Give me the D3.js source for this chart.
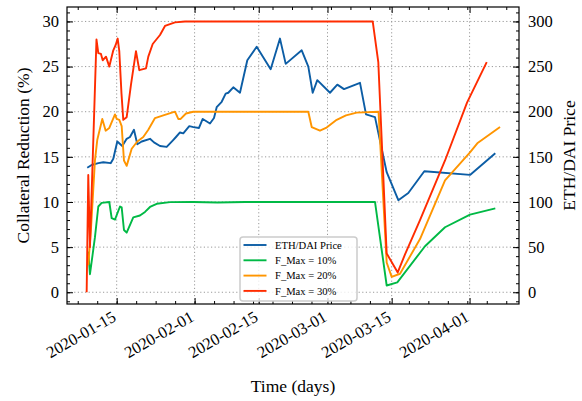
<!DOCTYPE html>
<html>
<head>
<meta charset="utf-8">
<script src="https://cdn.jsdelivr.net/npm/d3@7"></script>
<style>
  body { margin: 0; background: #fff; }
  svg, svg text { font-family: "Liberation Serif", "Times New Roman", serif; }
  svg { display: block; }
</style>
</head>
<body>
<svg id="chart" width="582" height="401"></svg>
<script>
// Times are day of 2020 (0 = Jan 1, fractional).
const ethPrice = [
  [7.58, 138], [8.54, 141], [9.99, 143], [11.08, 144], [12.69, 143], [13.26, 148],
  [14.13, 167], [15.22, 162], [16.18, 170], [16.90, 172], [17.77, 180], [18.50, 164],
  [19.46, 167], [21.27, 170], [22.14, 166], [23.45, 162], [24.91, 161], [26.22, 168],
  [26.94, 172], [27.81, 177], [28.53, 176], [29.84, 184], [30.76, 183], [31.96, 182],
  [32.77, 192], [34.36, 187], [35.23, 193], [35.82, 205], [36.91, 211], [37.78, 220],
  [38.35, 221], [39.44, 227], [40.90, 221], [42.50, 257], [44.55, 272], [47.60, 247],
  [49.63, 281], [50.88, 253], [54.37, 268], [55.81, 250], [56.77, 221], [57.77, 235],
  [60.54, 221], [62.14, 230], [63.60, 225], [67.09, 232], [68.40, 197], [70.36, 194],
  [72.91, 133], [75.45, 102], [77.63, 110], [81.12, 134], [91.09, 130], [96.61, 154]
];

const fMax10 = [
  [7.80, 4.5], [8.17, 2.0], [9.26, 6.1], [9.99, 9.5], [10.73, 9.9], [12.39, 10.0],
  [12.91, 8.2], [13.63, 8.05], [14.72, 9.5], [15.09, 9.4], [15.59, 6.9], [16.18, 6.6],
  [17.62, 8.3], [19.08, 8.5], [20.18, 8.9], [21.27, 9.45], [22.73, 9.8], [25.63, 9.98],
  [30.71, 10.0], [36.0, 9.95], [42.0, 10.0], [50.0, 10.0], [70.36, 10.0],
  [72.91, 0.75], [75.23, 1.1], [81.27, 5.1], [85.64, 7.2], [91.09, 8.6], [96.61, 9.3]
];

const fMax20 = [
  [7.80, 3.0], [8.39, 7.0], [9.26, 14.6], [9.77, 16.9], [10.86, 19.2], [11.60, 17.9],
  [12.39, 18.2], [13.63, 19.7], [14.0, 19.2], [14.57, 19.1], [15.09, 18.4], [15.59, 14.6],
  [16.18, 14.0], [17.27, 15.9], [18.50, 16.7], [19.80, 17.2], [20.90, 18.0], [22.36, 19.3],
  [24.17, 19.6], [26.72, 20.0], [27.44, 19.2], [27.96, 19.2], [29.12, 19.8], [30.71, 20.0],
  [55.81, 20.0], [56.55, 18.3], [58.36, 17.9], [59.67, 18.2], [62.00, 19.1], [64.03, 19.6],
  [66.37, 19.9], [71.13, 20.0], [72.91, 3.3], [74.0, 1.7], [75.82, 2.05], [80.18, 5.9],
  [85.64, 12.4], [91.09, 15.5], [92.68, 16.5], [97.64, 18.3]
];

const fMax30 = [
  [7.45, 0.0], [7.80, 13.0], [8.17, 5.0], [9.59, 28.0], [9.99, 26.5], [10.57, 26.4],
  [10.95, 25.7], [11.67, 26.1], [12.39, 25.0], [13.26, 26.8], [13.78, 27.4], [14.22, 28.1],
  [14.57, 26.7], [15.05, 22.0], [15.44, 19.1], [16.18, 19.4], [17.12, 23.0], [18.21, 26.7],
  [18.93, 24.6], [20.39, 24.8], [20.90, 26.1], [21.86, 27.5], [23.45, 28.5], [24.54, 29.5],
  [26.72, 29.9], [28.9, 30.0], [69.86, 30.0], [71.08, 25.5], [72.91, 4.3], [75.32, 2.2],
  [76.91, 4.2], [80.18, 8.0], [85.64, 14.6], [90.44, 21.0], [94.74, 25.5]
];

const seriesNames = ["ETH/DAI Price", "F_Max = 10%", "F_Max = 20%", "F_Max = 30%"];
const seriesColors = ["#0C5DA5", "#00B945", "#FF9500", "#FF2C00"];

const xTickLabels = ["2020-01-15", "2020-02-01", "2020-02-15", "2020-03-01", "2020-03-15", "2020-04-01"];
const yLeftTicks = [0, 5, 10, 15, 20, 25, 30];
const yRightTicks = [0, 50, 100, 150, 200, 250, 300];

const FONT = '"Liberation Serif", "Times New Roman", serif';
const dayToDate = d => new Date(Date.UTC(2020, 0, 1) + d * 864e5);
const parseDay = d3.utcParse("%Y-%m-%d");

const W = 582, H = 401;
const margin = { top: 7, right: 63, bottom: 97, left: 67 };
const plotW = W - margin.left - margin.right;
const plotH = H - margin.top - margin.bottom;

const svg = d3.select("#chart");
const g = svg.append("g").attr("transform", `translate(${margin.left},${margin.top})`);

const x = d3.scaleUtc().domain([dayToDate(3.16), dayToDate(101.78)]).range([0, plotW]);
const yL = d3.scaleLinear().domain([-1.3, 31.6]).range([plotH, 0]);
const yR = d3.scaleLinear().domain([-13, 316]).range([plotH, 0]);

const majorDates = xTickLabels.map(parseDay);
// minor ticks: quarter of the first major step, repeated across the axis
const minorStep = (majorDates[1] - majorDates[0]) / 4;
const minorDates = [];
const [d0, d1] = x.domain();
for (let t = +majorDates[0] - Math.floor((majorDates[0] - d0) / minorStep) * minorStep; t <= +d1; t += minorStep) {
  minorDates.push(new Date(t));
}
const yMinor = d3.range(-1, 32, 1);

// grid
const grid = g.append("g").attr("class", "grid")
  .attr("stroke", "#9a9a9a").attr("stroke-width", 1).attr("stroke-dasharray", "1.2,2.4");
majorDates.forEach(d => {
  grid.append("line").attr("x1", x(d)).attr("x2", x(d)).attr("y1", 0).attr("y2", plotH);
});
yLeftTicks.forEach(v => {
  grid.append("line").attr("x1", 0).attr("x2", plotW).attr("y1", yL(v)).attr("y2", yL(v));
});

// lines
const lineL = d3.line().x(d => x(dayToDate(d[0]))).y(d => yL(d[1]));
const lineR = d3.line().x(d => x(dayToDate(d[0]))).y(d => yR(d[1]));
const plotSeries = [
  { data: ethPrice, line: lineR },
  { data: fMax10, line: lineL },
  { data: fMax20, line: lineL },
  { data: fMax30, line: lineL }
];
plotSeries.forEach((s, i) => {
  g.append("path")
    .datum(s.data)
    .attr("d", s.line)
    .attr("fill", "none")
    .attr("stroke", seriesColors[i])
    .attr("stroke-width", 1.9)
    .attr("stroke-linejoin", "round");
});

// axes, ticks pointing in
const fontSize = 16.5;
const styleAxis = sel => {
  sel.attr("font-family", FONT).attr("font-size", fontSize);
  sel.select(".domain").remove();
  sel.selectAll("line").attr("stroke", "#000").attr("stroke-width", 1);
  sel.selectAll("text").attr("fill", "#000");
};

g.append("g").attr("transform", `translate(0,${plotH})`)
  .call(d3.axisBottom(x).tickValues(minorDates).tickSize(-3).tickFormat(""))
  .call(styleAxis);
g.append("g")
  .call(d3.axisTop(x).tickValues(minorDates).tickSize(-3).tickFormat(""))
  .call(styleAxis);
g.append("g")
  .call(d3.axisTop(x).tickValues(majorDates).tickSize(-6).tickFormat(""))
  .call(styleAxis);

const xAxis = g.append("g").attr("transform", `translate(0,${plotH})`)
  .call(d3.axisBottom(x).tickValues(majorDates).tickSize(-6).tickFormat(d3.utcFormat("%Y-%m-%d")))
  .call(styleAxis);
// right-aligned, rotated labels ending at the tick
xAxis.selectAll("text")
  .attr("y", 0).attr("x", 0).attr("dy", 0)
  .attr("text-anchor", "end")
  .attr("transform", "translate(0,16) rotate(-30)");

g.append("g")
  .call(d3.axisLeft(yL).tickValues(yMinor).tickSize(-3).tickFormat(""))
  .call(styleAxis);
g.append("g")
  .call(d3.axisLeft(yL).tickValues(yLeftTicks).tickSize(-6).tickPadding(8).tickFormat(d3.format("d")))
  .call(styleAxis);

g.append("g").attr("transform", `translate(${plotW},0)`)
  .call(d3.axisRight(yR).tickValues(d3.range(-10, 320, 10)).tickSize(-3).tickFormat(""))
  .call(styleAxis);
g.append("g").attr("transform", `translate(${plotW},0)`)
  .call(d3.axisRight(yR).tickValues(yRightTicks).tickSize(-6).tickPadding(9).tickFormat(d3.format("d")))
  .call(styleAxis);

// frame
g.append("rect")
  .attr("width", plotW).attr("height", plotH)
  .attr("fill", "none").attr("stroke", "#000").attr("stroke-width", 1.2);

// axis titles
const title = (tx, ty, rot, label) => svg.append("text")
  .attr("transform", `translate(${tx},${ty}) rotate(${rot})`)
  .attr("text-anchor", "middle").attr("dy", "0.35em")
  .attr("font-family", FONT).attr("font-size", 17.5)
  .text(label);
title(23, margin.top + plotH / 2, -90, "Collateral Reduction (%)");
title(569, margin.top + plotH / 2, -90, "ETH/DAI Price");
title(margin.left + plotW / 2, 386, 0, "Time (days)");

// legend
const legend = g.append("g").attr("transform", `translate(${240 - margin.left},${237 - margin.top})`)
  .attr("font-family", FONT);
legend.append("rect")
  .attr("width", 117).attr("height", 64).attr("rx", 3)
  .attr("fill", "#fff").attr("fill-opacity", 0.8)
  .attr("stroke", "#cccccc").attr("stroke-width", 1.5);
seriesNames.forEach((name, i) => {
  const yy = 8 + i * 15.3;
  legend.append("line")
    .attr("x1", 3.5).attr("x2", 26.5).attr("y1", yy).attr("y2", yy)
    .attr("stroke", seriesColors[i]).attr("stroke-width", 1.9);
  legend.append("text")
    .attr("x", 35).attr("y", yy).attr("dy", "0.35em")
    .attr("font-size", 10.6).text(name);
});
</script>
</body>
</html>
